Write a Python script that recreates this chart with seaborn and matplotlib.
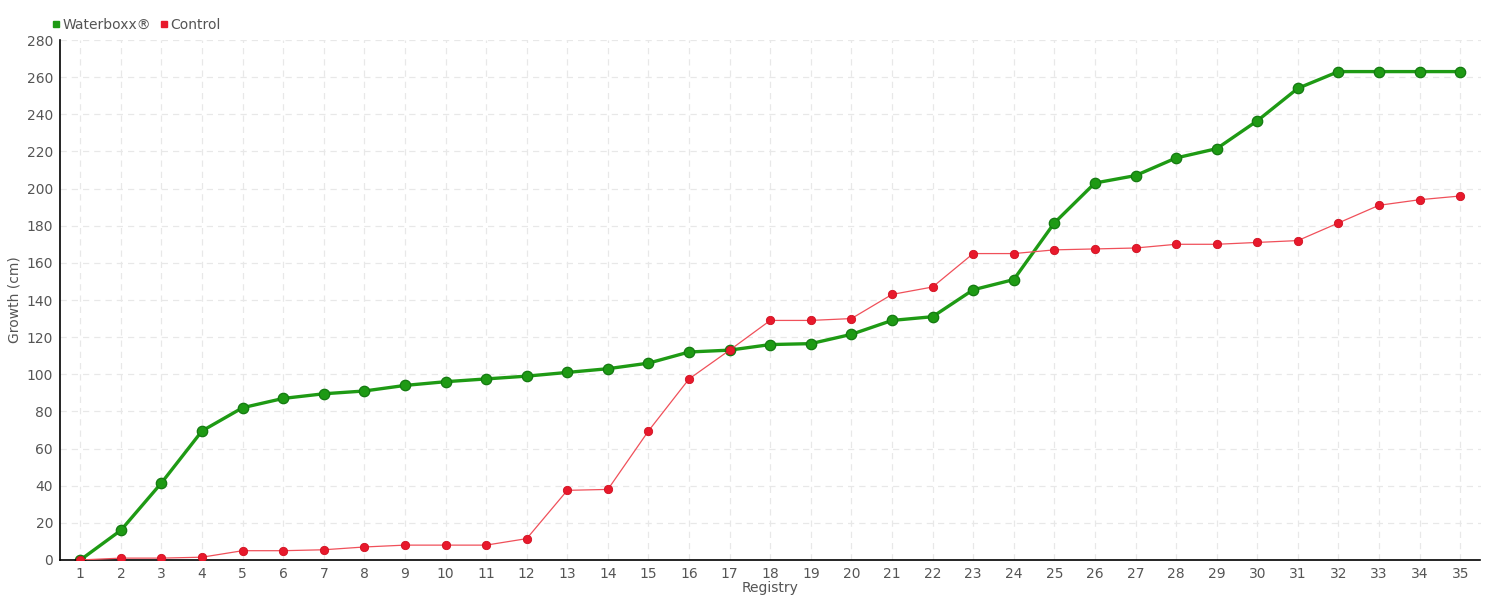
import numpy as np
import pandas as pd
import seaborn as sns
import matplotlib.pyplot as plt
from matplotlib.lines import Line2D

registry = list(range(1, 36))
waterboxx = [0, 16, 41.5, 69.5, 82, 87, 89.5, 91, 94, 96, 97.5, 99, 101, 103, 106,
             112, 113, 116, 116.5, 121.5, 129, 131, 145.5, 151, 181.5, 203, 207,
             216.5, 221.5, 236.5, 254, 263, 263, 263, 263]
control = [0, 1, 1, 1.5, 5, 5, 5.5, 7, 8, 8, 8, 11.5, 37.5, 38, 69.5, 97.5, 113,
           129, 129, 130, 143, 147, 165, 165, 167, 167.5, 168, 170, 170, 171, 172,
           181.5, 191, 194, 196]
series_names = ['Waterboxx®', 'Control']
series_colors = ['#1e9a14', '#e8192c']

df = pd.DataFrame({'Registry': registry, 'Waterboxx®': waterboxx, 'Control': control})

sns.set_style('white')
plt.rcParams['font.family'] = ['DejaVu Sans']
text_col = '#555555'

fig, ax = plt.subplots(figsize=(15, 6), dpi=100)
fig.subplots_adjust(left=0.04, right=0.987, bottom=0.0667, top=0.9333)

sns.lineplot(data=df, x='Registry', y='Control', ax=ax, color='#f0505a', linewidth=0.9,
             marker='o', markersize=6, markerfacecolor='#e8192c',
             markeredgecolor='#d01020', markeredgewidth=0.6, zorder=3)
sns.lineplot(data=df, x='Registry', y='Waterboxx®', ax=ax, color='#1e9a14', linewidth=2.4,
             marker='o', markersize=7.5, markerfacecolor='#1e9a14',
             markeredgecolor='#137a10', markeredgewidth=0.9, zorder=2)

ax.set_xlim(0.5, 35.5)
ax.set_ylim(0, 280)
ax.set_xticks(registry)
ax.set_yticks(np.arange(0, 281, 20))
ax.grid(True, color='#e8e8e8', linestyle=(0, (5, 4)), linewidth=0.9)
for s in ['top', 'right']:
    ax.spines[s].set_visible(False)
for s in ['left', 'bottom']:
    ax.spines[s].set_color('black')
    ax.spines[s].set_linewidth(1.2)
ax.tick_params(axis='both', colors='black', labelcolor=text_col, labelsize=10,
               direction='out', length=4, width=1, pad=1)
ax.set_xlabel('Registry', color=text_col, fontsize=10, labelpad=0)
ax.set_ylabel('Growth (cm)', color=text_col, fontsize=10, labelpad=4)

handles = [Line2D([], [], linestyle='none', marker='s', markersize=5, color=c)
           for c in series_colors]
ax.legend(handles, series_names, loc='lower left', bbox_to_anchor=(-0.01, 1.005),
          ncol=2, frameon=False, handlelength=0.6, handletextpad=0.2,
          columnspacing=0.6, borderaxespad=0, labelcolor=text_col, fontsize=10)

plt.savefig('out.png')
